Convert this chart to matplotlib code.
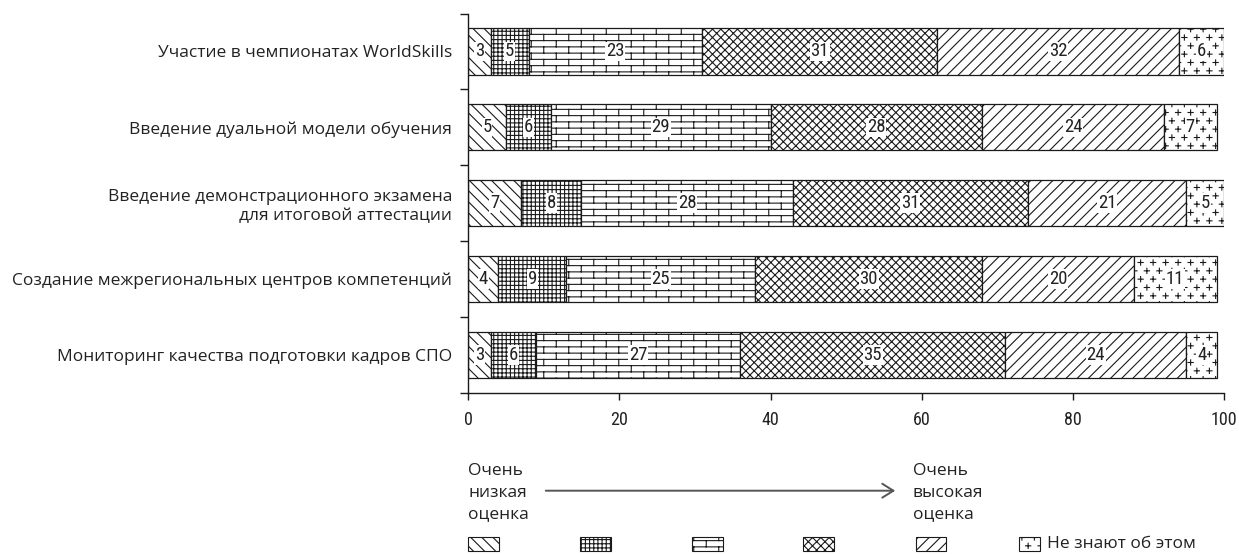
import warnings

import numpy as np
import matplotlib
matplotlib.use("Agg")
import matplotlib.pyplot as plt
import matplotlib.hatch as mhatch
from matplotlib.path import Path
from matplotlib.patches import Rectangle, FancyArrowPatch
from matplotlib import font_manager as fm

warnings.filterwarnings("ignore")

# ---------------------------------------------------------------- data
categories = [
    "Участие в чемпионатах WorldSkills",
    "Введение дуальной модели обучения",
    "Введение демонстрационного экзамена\nдля итоговой аттестации",
    "Создание межрегиональных центров компетенций",
    "Мониторинг качества подготовки кадров СПО",
]
very_low = [3, 5, 7, 4, 3]
low = [5, 6, 8, 9, 6]
medium = [23, 29, 28, 25, 27]
high = [31, 28, 31, 30, 35]
very_high = [32, 24, 21, 20, 24]
unaware = [6, 7, 5, 11, 4]

x_ticks = [0, 20, 40, 60, 80, 100]
scale_low_label = "Очень\nнизкая\nоценка"
scale_high_label = "Очень\nвысокая\nоценка"
unaware_label = "Не знают об этом"

series = [very_low, low, medium, high, very_high, unaware]


# ------------------------------------------------------- custom hatches
def brick_segments(rows=16, cols=4):
    segs = []
    for i in range(rows):
        y0 = (i + 0.5) / rows
        y1 = (i + 1.5) / rows
        segs.append(((0.0, y0), (1.0, y0)))
        shift = 0.5 * (i % 2)
        for j in range(cols):
            x = (j + 0.25 + shift) / cols
            if y1 <= 1.0:
                segs.append(((x, y0), (x, y1)))
            else:
                segs.append(((x, y0), (x, 1.0)))
                segs.append(((x, 0.0), (x, y1 - 1.0)))
    return np.array(segs, dtype=float)


def plus_segments(rows=12, cols=8, arm=0.026):
    segs = []
    for i in range(rows):
        y = (i + 0.5) / rows
        shift = 0.5 * (i % 2)
        for j in range(cols):
            x = (j + 0.25 + shift) / cols
            segs.append(((x - arm, y), (x + arm, y)))
            segs.append(((x, y - arm), (x, y + arm)))
    return np.array(segs, dtype=float)


class SegmentHatch(mhatch.HatchPatternBase):
    symbol = None
    segments = None

    def __init__(self, hatch, density):
        active = hatch is not None and self.symbol in hatch
        self.num_vertices = 2 * len(self.segments) if active else 0

    def set_vertices_and_codes(self, vertices, codes):
        vertices[:] = self.segments.reshape(-1, 2)
        codes[0::2] = Path.MOVETO
        codes[1::2] = Path.LINETO


class BrickHatch(SegmentHatch):
    symbol = "b"
    segments = brick_segments()


class PlusHatch(SegmentHatch):
    symbol = "p"
    segments = plus_segments()


mhatch._hatch_types.extend([BrickHatch, PlusHatch])

hatches = ["\\\\\\", "++++", "b", "xxxx", "///", "p"]

# --------------------------------------------------------------- fonts
available = {f.name for f in fm.fontManager.ttflist}
num_font = next((n for n in ["Liberation Sans Narrow", "Roboto Condensed",
                             "Liberation Sans"] if n in available), "DejaVu Sans")
text_font = next((n for n in ["Open Sans", "Noto Sans"] if n in available),
                 "DejaVu Sans")

plt.rcParams["hatch.linewidth"] = 0.8
plt.rcParams["hatch.color"] = "black"

INK = "#222222"
LINE = "#1a1a1a"

# -------------------------------------------------------------- figure
W, H = 1239, 554
fig = plt.figure(figsize=(W / 100, H / 100), dpi=100)
ax = fig.add_axes([468 / W, 1 - 392.7 / H, (1224.3 - 468) / W, (392.7 - 13.5) / H])

ypos = np.arange(len(categories))
left = np.zeros(len(categories))
for vals, hatch in zip(series, hatches):
    vals = np.asarray(vals, dtype=float)
    ax.barh(ypos, vals, left=left, height=0.61, color="white",
            edgecolor=LINE, linewidth=0.9, hatch=hatch)
    for yi, l, v in zip(ypos, left, vals):
        ax.text(l + v / 2, yi, f"{v:.0f}", ha="center", va="center",
                fontsize=13.5, family=num_font, color=INK,
                bbox=dict(facecolor="white", edgecolor="none", pad=0.5))
    left += vals

ax.set_xlim(0, 100)
ax.set_ylim(len(categories) - 0.5, -0.5)

for side in ("top", "right"):
    ax.spines[side].set_visible(False)
for side in ("left", "bottom"):
    ax.spines[side].set_color(LINE)
    ax.spines[side].set_linewidth(1.0)

ax.set_yticks(ypos)
ax.set_yticklabels(categories, family=text_font, fontsize=12.5, color=INK,
                   linespacing=1.25)
ax.tick_params(axis="y", which="major", length=0, pad=11.5)
ax.set_yticks(np.arange(-0.5, len(categories)), minor=True)
ax.tick_params(axis="y", which="minor", length=5.8, width=1.0, color=LINE)

ax.set_xticks(x_ticks)
ax.set_xticklabels([str(t) for t in x_ticks])
ax.tick_params(axis="x", length=5.0, width=1.0, color=LINE, pad=8.5,
               labelsize=13, labelcolor=INK, labelfontfamily=num_font)

# ------------------------------------------------------ scale & legend
def fx(px):
    return px / W


def fy(py):
    return 1 - py / H


# va="baseline" on multi-line text pins the last line's baseline
fig.text(fx(468), fy(518), scale_low_label, ha="left", va="baseline",
         family=text_font, fontsize=12.5, color=INK, linespacing=1.45)
fig.text(fx(913), fy(518), scale_high_label, ha="left", va="baseline",
         family=text_font, fontsize=12.5, color=INK, linespacing=1.45)

arrow = FancyArrowPatch((fx(543), fy(490.7)), (fx(898), fy(490.7)),
                        transform=fig.transFigure,
                        arrowstyle="->,head_length=0.4,head_width=0.25",
                        mutation_scale=20, color="#555555", linewidth=1.4)
fig.add_artist(arrow)

swatch_left = [468, 580, 692, 803, 916, 1019]
swatch_width = [31, 31, 31, 31, 30, 21]
for x0, w, hatch in zip(swatch_left, swatch_width, hatches):
    fig.add_artist(Rectangle((fx(x0), fy(551)), w / W, 14.3 / H,
                             transform=fig.transFigure, facecolor="white",
                             edgecolor=LINE, linewidth=0.8, hatch=hatch))

fig.text(fx(1047), fy(544), unaware_label, ha="left", va="center",
         family=text_font, fontsize=12.5, color=INK)

fig.savefig("out.png", dpi=100)
